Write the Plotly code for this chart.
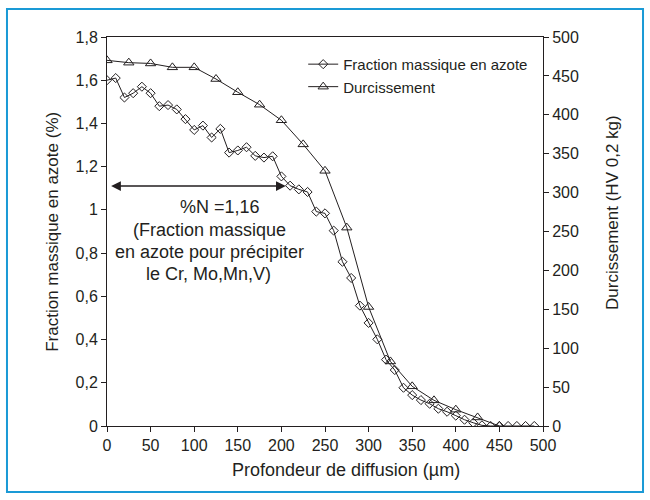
import plotly.graph_objects as go

# Nitrogen mass fraction profile (%), every 10 µm
depth_n = [0, 10, 20, 30, 40, 50, 60, 70, 80, 90, 100, 110, 120, 130, 140, 150, 160,
           170, 180, 190, 200, 210, 220, 230, 240, 250, 260, 270, 280, 290, 300, 310,
           320, 330, 340, 350, 360, 370, 380, 390, 400, 410, 420, 430, 440, 450, 460,
           470, 480, 490]
nitrogen = [1.60, 1.61, 1.52, 1.54, 1.57, 1.54, 1.48, 1.485, 1.465, 1.42, 1.37, 1.39,
            1.335, 1.375, 1.265, 1.275, 1.29, 1.25, 1.242, 1.248, 1.155, 1.112, 1.095,
            1.083, 0.992, 0.984, 0.904, 0.76, 0.685, 0.557, 0.477, 0.401, 0.307, 0.259,
            0.177, 0.143, 0.12, 0.103, 0.08, 0.066, 0.048, 0.029, 0.015, 0.003, 0.0,
            0.0, 0.0, 0.0, 0.0, 0.0]

# Hardness profile (HV 0,2 kg), every 25 µm
depth_hv = [0, 25, 50, 75, 100, 125, 150, 175, 200, 225, 250, 275, 300, 325, 350, 375,
            400, 425, 450]
hardness = [470, 467, 466, 461, 461, 446, 429, 413, 393, 362, 328, 255, 153, 83, 51,
            33, 21, 11, 0]

left_ticks = [0, 0.2, 0.4, 0.6, 0.8, 1.0, 1.2, 1.4, 1.6, 1.8]
left_labels = ["0", "0,2", "0,4", "0,6", "0,8", "1", "1,2", "1,4", "1,6", "1,8"]

# Threshold arrow and its caption
arrow_level = 1.11
arrow_start, arrow_end = 3, 205
caption = ["%N =1,16", "(Fraction massique", "en azote pour précipiter", "le Cr, Mo,Mn,V)"]
caption_x = [130, 118, 118, 116]
caption_y = [1.014, 0.907, 0.805, 0.704]

FONT = "Liberation Sans, Arial, sans-serif"
INK = "#231f20"

fig = go.Figure()
fig.add_trace(go.Scatter(
    x=depth_n, y=nitrogen, mode="lines+markers", name="Fraction massique en azote",
    line=dict(color=INK, width=1),
    marker=dict(symbol="diamond-open", size=7, color=INK, line=dict(width=1)),
))
fig.add_trace(go.Scatter(
    x=depth_hv, y=hardness, mode="lines+markers", name="Durcissement", yaxis="y2",
    line=dict(color=INK, width=1),
    marker=dict(symbol="triangle-up-open", size=9, color=INK, line=dict(width=1)),
))

axis_common = dict(showgrid=False, zeroline=False, showline=True, linecolor=INK,
                   linewidth=1, ticks="outside", ticklen=5, tickcolor=INK,
                   tickfont=dict(family=FONT, size=16, color=INK))

fig.update_layout(
    width=650, height=500,
    margin=dict(l=107, r=107, t=37, b=74),
    paper_bgcolor="white", plot_bgcolor="white",
    font=dict(family=FONT, color=INK),
    showlegend=True,
    legend=dict(x=0.45, y=0.972, xanchor="left", yanchor="top",
                bgcolor="rgba(0,0,0,0)", font=dict(family=FONT, size=15, color=INK),
                tracegroupgap=0, itemwidth=30),
    xaxis=dict(range=[0, 500], tickvals=list(range(0, 501, 50)), mirror=True, **axis_common),
    yaxis=dict(range=[0, 1.8], tickvals=left_ticks, ticktext=left_labels, **axis_common),
    yaxis2=dict(range=[0, 500], tickvals=list(range(0, 501, 50)), overlaying="y",
                side="right", **axis_common),
)

# Axis titles
fig.add_annotation(xref="paper", yref="paper", x=0.548, y=-0.113,
                   xanchor="center", yanchor="middle",
                   text="Profondeur de diffusion (µm)", showarrow=False,
                   font=dict(family=FONT, size=18, color=INK))
fig.add_annotation(xref="paper", yref="paper", x=-0.124, y=0.499,
                   xanchor="center", yanchor="middle",
                   text="Fraction massique en azote (%)", textangle=-90, showarrow=False,
                   font=dict(family=FONT, size=17, color=INK))
fig.add_annotation(xref="paper", yref="paper", x=1.158, y=0.55,
                   xanchor="center", yanchor="middle",
                   text="Durcissement (HV 0,2 kg)", textangle=-90, showarrow=False,
                   font=dict(family=FONT, size=17, color=INK))

# Double-headed arrow
fig.add_annotation(x=arrow_end, y=arrow_level, ax=arrow_start, ay=arrow_level,
                   xref="x", yref="y", axref="x", ayref="y", text="",
                   showarrow=True, arrowhead=2, startarrowhead=2, arrowside="end+start",
                   arrowsize=1.3, startarrowsize=1.3, arrowwidth=1.5, arrowcolor=INK)
for txt, cx, cy in zip(caption, caption_x, caption_y):
    fig.add_annotation(x=cx, y=cy, xref="x", yref="y", text=txt, showarrow=False,
                       xanchor="center", yanchor="middle",
                       font=dict(family=FONT, size=18, color=INK))

# Outer frame
fig.add_shape(type="rect", xref="paper", yref="paper",
              x0=-0.2294, x1=1.2294, y0=-0.1697, y1=1.072,
              line=dict(color="#1a9ad6", width=2), fillcolor="rgba(0,0,0,0)")

fig.write_html("out.html")
